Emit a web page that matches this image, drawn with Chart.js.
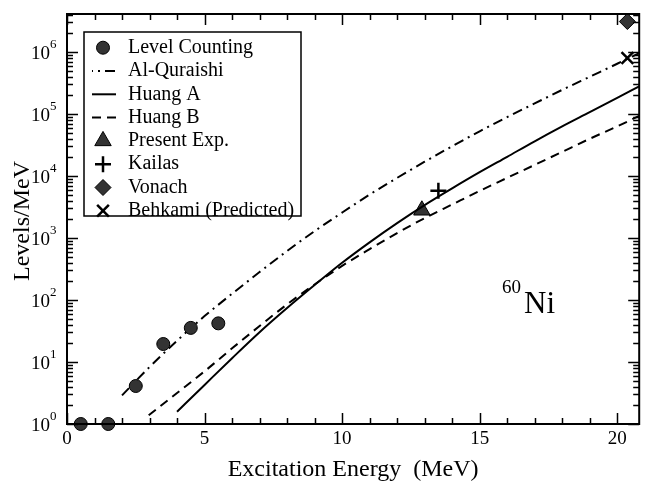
<!DOCTYPE html>
<html>
<head>
<meta charset="utf-8">
<script src="https://cdn.jsdelivr.net/npm/chart.js@4/dist/chart.umd.min.js"></script>
<style>
  html, body { margin: 0; padding: 0; background: #fff; }
</style>
</head>
<body>
<canvas id="myChart" width="650" height="481"></canvas>
<script>
// level density data, 60Ni
const levelE = [0.5, 1.5, 2.5, 3.5, 4.5, 5.5];
const levelN = [1, 1, 4.1, 19.5, 35.5, 42];

const quraishiE = [2, 3, 4, 5, 6, 7, 8, 9, 10, 11, 12, 13, 14, 15, 16, 17, 18, 19, 20, 20.8];
const quraishiN = [2.9, 8.3, 22, 55, 126, 282, 617, 1290, 2570, 5010, 9330, 17000, 30200, 52500, 89100, 148000, 245000, 398000, 646000, 960000];

const huangAE = [4, 5, 6, 7, 8, 9, 10, 11, 12, 13, 14, 15, 16, 17, 18, 19, 20, 20.8];
const huangAN = [1.58, 4.27, 11.5, 30.2, 74.1, 174, 398, 851, 1740, 3390, 6310, 11500, 20400, 36300, 63100, 107000, 182000, 280000];

const huangBE = [2.97, 4, 5, 6, 7, 8, 9, 10, 11, 12, 13, 14, 15, 16, 17, 18, 19, 20, 20.8];
const huangBN = [1.38, 3.16, 7.08, 16.6, 38, 85.1, 178, 355, 661, 1200, 2090, 3470, 5750, 9330, 15100, 24500, 39800, 63100, 93000];

const presentE = [12.9], presentN = [2800];
const kailasE = [13.5], kailasN = [5800];
const vonachE = [20.37], vonachN = [3100000];
const behkamiE = [20.37], behkamiN = [800000];

const xMin = 0, xMax = 20.8;
const yMin = 1, yMax = 4.1e6;
const xTickLabels = [0, 5, 10, 15, 20];
const yTickExps = [0, 1, 2, 3, 4, 5, 6];

const SERIF = '"Liberation Serif", "Times New Roman", serif';

function pts(xs, ys) {
  return xs.map((x, i) => ({ x: x, y: ys[i] }));
}

function lineSet(label, xs, ys, dash) {
  return {
    label: label,
    data: pts(xs, ys),
    showLine: true,
    borderColor: '#000',
    borderWidth: 2,
    borderDash: dash,
    pointRadius: 0,
    cubicInterpolationMode: 'monotone',
    fill: false
  };
}

function markSet(label, xs, ys, style, r, filled, lw) {
  return {
    label: label,
    data: pts(xs, ys),
    showLine: false,
    pointStyle: style,
    pointRadius: r,
    pointHoverRadius: r,
    pointBackgroundColor: filled ? '#333' : 'rgba(0,0,0,0)',
    pointBorderColor: '#000',
    pointBorderWidth: lw,
    clip: false
  };
}

const datasets = [
  markSet('Level Counting', levelE, levelN, 'circle', 6.5, true, 1),
  lineSet('Al-Quraishi', quraishiE, quraishiN, [10, 5, 2, 5]),
  lineSet('Huang A', huangAE, huangAN, []),
  lineSet('Huang B', huangBE, huangBN, [9, 6]),
  markSet('Present Exp.', presentE, presentN, 'triangle', 9.5, true, 1),
  markSet('Kailas', kailasE, kailasN, 'cross', 8, false, 2.5),
  markSet('Vonach', vonachE, vonachN, 'rectRot', 8, true, 1),
  markSet('Behkami (Predicted)', behkamiE, behkamiN, 'crossRot', 8.3, false, 2.5)
];

// frame, inward ticks, tick labels, titles, legend
const decorPlugin = {
  id: 'decor',
  afterDatasetsDraw(chart) {
    const ctx = chart.ctx;
    const a = chart.chartArea;
    const xs = chart.scales.x, ys = chart.scales.y;
    ctx.save();
    ctx.strokeStyle = '#000';
    ctx.fillStyle = '#000';

    // frame
    ctx.lineWidth = 2;
    ctx.strokeRect(a.left, a.top, a.right - a.left, a.bottom - a.top);

    // x ticks (every 1, major every 5)
    ctx.lineWidth = 1.5;
    for (let v = 0; v <= Math.floor(xMax); v++) {
      const px = Math.round(xs.getPixelForValue(v)) + 0.5;
      const len = v % 5 === 0 ? 11 : 6;
      ctx.beginPath();
      ctx.moveTo(px, a.bottom); ctx.lineTo(px, a.bottom - len);
      ctx.moveTo(px, a.top); ctx.lineTo(px, a.top + len);
      ctx.stroke();
    }
    // y ticks (log)
    for (let e = 0; e <= 6; e++) {
      for (let m = 1; m <= 9; m++) {
        const v = m * Math.pow(10, e);
        if (v > yMax) continue;
        const py = Math.round(ys.getPixelForValue(v)) + 0.5;
        const len = m === 1 ? 11 : 6;
        ctx.beginPath();
        ctx.moveTo(a.left, py); ctx.lineTo(a.left + len, py);
        ctx.moveTo(a.right, py); ctx.lineTo(a.right - len, py);
        ctx.stroke();
      }
    }

    // x tick labels
    ctx.font = '19px ' + SERIF;
    ctx.textAlign = 'center';
    ctx.textBaseline = 'middle';
    xTickLabels.forEach(v => {
      ctx.fillText(String(v), xs.getPixelForValue(v), a.bottom + 15);
    });

    // y tick labels 10^n
    yTickExps.forEach(e => {
      const py = ys.getPixelForValue(Math.pow(10, e));
      ctx.font = '19px ' + SERIF;
      ctx.textAlign = 'right';
      ctx.fillText('10', 50, py + 2);
      ctx.font = '13px ' + SERIF;
      ctx.textAlign = 'left';
      ctx.fillText(String(e), 50, py - 7);
    });

    // axis titles
    ctx.font = '24px ' + SERIF;
    ctx.textAlign = 'center';
    ctx.textBaseline = 'alphabetic';
    ctx.fillText('Excitation Energy  (MeV)', (a.left + a.right) / 2, 476);
    ctx.save();
    ctx.translate(29, (a.top + a.bottom) / 2 + 2);
    ctx.rotate(-Math.PI / 2);
    ctx.fillText('Levels/MeV', 0, 0);
    ctx.restore();

    // nucleus label
    ctx.textAlign = 'left';
    ctx.font = '19px ' + SERIF;
    ctx.fillText('60', 502, 293);
    ctx.font = '31px ' + SERIF;
    ctx.fillText('Ni', 524, 313);

    // legend
    const lx = 84, ly = 32, lw = 217, lh = 184;
    ctx.fillStyle = '#fff';
    ctx.fillRect(lx, ly, lw, lh);
    ctx.fillStyle = '#000';
    ctx.lineWidth = 1.5;
    ctx.strokeRect(lx, ly, lw, lh);
    ctx.font = '20px ' + SERIF;
    ctx.textBaseline = 'middle';
    chart.data.datasets.forEach((ds, i) => {
      const ry = 47.7 + i * 23.3;
      if (ds.showLine) {
        ctx.save();
        ctx.lineWidth = ds.borderWidth;
        ctx.setLineDash(ds.borderDash || []);
        if (ds.borderDash && ds.borderDash.length === 4) ctx.lineDashOffset = 9;
        ctx.beginPath();
        ctx.moveTo(92, ry); ctx.lineTo(116, ry);
        ctx.stroke();
        ctx.restore();
      } else {
        ctx.save();
        ctx.fillStyle = ds.pointBackgroundColor;
        ctx.strokeStyle = ds.pointBorderColor;
        ctx.lineWidth = ds.pointBorderWidth;
        Chart.helpers.drawPoint(ctx, {
          pointStyle: ds.pointStyle,
          radius: ds.pointRadius,
          rotation: 0,
          borderWidth: ds.pointBorderWidth
        }, 103, ry);
        ctx.restore();
      }
      ctx.fillStyle = '#000';
      ctx.fillText(ds.label, 128, ry);
    });

    ctx.restore();
  }
};

new Chart('myChart', {
  type: 'scatter',
  data: { datasets: datasets },
  options: {
    responsive: false,
    animation: false,
    layout: { padding: { left: 67, top: 14, right: 2, bottom: 57 } },
    plugins: {
      legend: { display: false },
      tooltip: { enabled: false }
    },
    scales: {
      x: { type: 'linear', min: xMin, max: xMax, display: false },
      y: { type: 'logarithmic', min: yMin, max: yMax, display: false }
    }
  },
  plugins: [decorPlugin]
});
</script>
</body>
</html>
